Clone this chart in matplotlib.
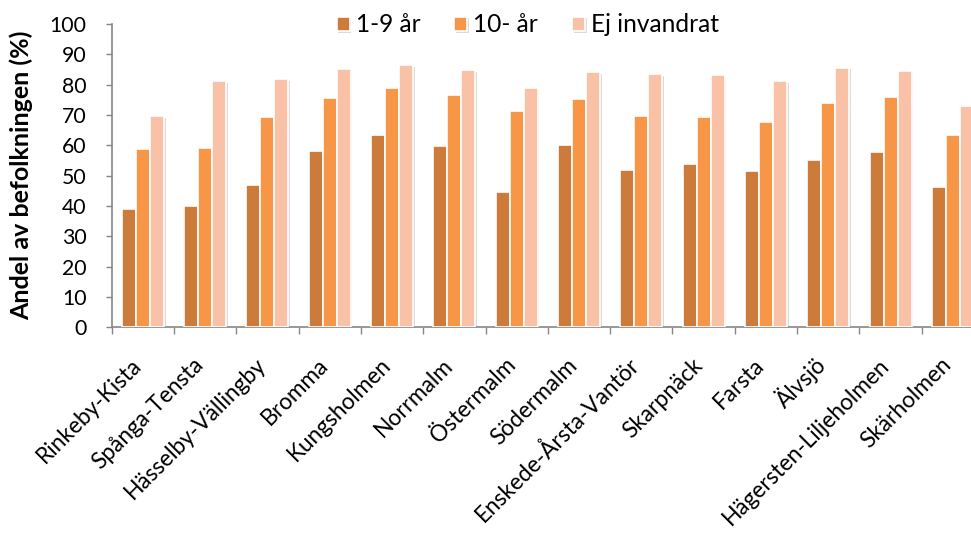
import matplotlib
matplotlib.use("Agg")
import matplotlib.pyplot as plt
import matplotlib.patheffects as pe
import matplotlib.transforms as mtransforms
from matplotlib.ticker import FixedLocator
import numpy as np

categories = ["Rinkeby-Kista", "Spånga-Tensta", "Hässelby-Vällingby", "Bromma",
              "Kungsholmen", "Norrmalm", "Östermalm", "Södermalm",
              "Enskede-Årsta-Vantör", "Skarpnäck", "Farsta", "Älvsjö",
              "Hägersten-Liljeholmen", "Skärholmen"]
series_names = ["1-9 år", "10- år", "Ej invandrat"]
s1 = [39.0, 39.9, 47.0, 58.2, 63.4, 59.8, 44.6, 60.0, 52.0, 53.9, 51.5, 55.1, 57.7, 46.2]
s2 = [58.7, 59.2, 69.4, 75.7, 78.9, 76.5, 71.3, 75.4, 69.8, 69.4, 67.7, 74.1, 75.8, 63.3]
s3 = [69.6, 81.2, 81.9, 85.3, 86.5, 84.8, 78.8, 84.1, 83.4, 83.1, 81.1, 85.6, 84.6, 73.0]
yticks = list(range(0, 101, 10))
ylabel = "Andel av befolkningen (%)"

colors = ["#CD7B3A", "#F79646", "#F9C2A6"]
font = ["Lato", "DejaVu Sans"]
plt.rcParams["font.family"] = font

DPI = 100
fig = plt.figure(figsize=(9.71, 5.33), dpi=DPI)
renderer = fig.canvas.get_renderer()


def fit_size(text, target_px, weight="normal"):
    t = fig.text(0, 0, text, fontsize=10, fontweight=weight)
    wpx = t.get_window_extent(renderer).width
    t.remove()
    return 10 * target_px / wpx


tick_fs = fit_size("100", 37)
leg_fs = fit_size("Ej invandrat", 128)
xlab_fs = fit_size("Rinkeby-KistaSkarpnäck", 240)
ylab_fs = fit_size(ylabel, 290, "bold")

ax = fig.add_axes([111.7 / 971, (533 - 327.3) / 533, 872.3 / 971, 303.3 / 533])

x = np.arange(len(categories))
w = 0.225
shadow = [pe.SimplePatchShadow(offset=(1.2, -1.2), shadow_rgbFace="#999999", alpha=0.35), pe.Normal()]
for i, (vals, name, c) in enumerate(zip([s1, s2, s3], series_names, colors)):
    ax.bar(x + (i - 1) * w, vals, width=w, color=c, edgecolor="white",
           linewidth=1.2, label=name, path_effects=shadow, zorder=3)

ax.set_xlim(-0.5, len(categories) - 0.5)
ax.set_ylim(0, 100)
ax.set_yticks(yticks)
ax.set_yticklabels([str(t) for t in yticks], fontsize=tick_fs)

ax.set_xticks(x)
ax.set_xticklabels(categories, rotation=45, ha="right", va="baseline",
                   rotation_mode="anchor", fontsize=xlab_fs)
shift = mtransforms.ScaledTranslation(8 / DPI, 0, fig.dpi_scale_trans)
for lab in ax.get_xticklabels():
    lab.set_transform(lab.get_transform() + shift)
ax.xaxis.set_minor_locator(FixedLocator(np.arange(-0.5, len(categories), 1.0)))
ax.tick_params(axis="x", which="major", length=0, pad=39 * 72 / DPI)
ax.tick_params(axis="x", which="minor", length=5, width=1, color="#868686")
ax.tick_params(axis="y", which="major", length=4.5, width=1, color="#868686",
               pad=19 * 72 / DPI)

for s in ["top", "right"]:
    ax.spines[s].set_visible(False)
for s in ["left", "bottom"]:
    ax.spines[s].set_color("#868686")
    ax.spines[s].set_linewidth(1.2)

ax.set_ylabel(ylabel, fontsize=ylab_fs, fontweight="bold")
ax.yaxis.set_label_coords((33 - 111.7) / 872.3, 0.5)

fpx = leg_fs * DPI / 72
fig.legend(loc="center", bbox_to_anchor=(528 / 971, (533 - 25) / 533), ncol=3,
           frameon=False, fontsize=leg_fs, handlelength=13 / fpx, handleheight=13 / fpx,
           handletextpad=6 / fpx, columnspacing=34 / fpx, borderpad=0, borderaxespad=0)

fig.savefig("out.png", dpi=DPI)
